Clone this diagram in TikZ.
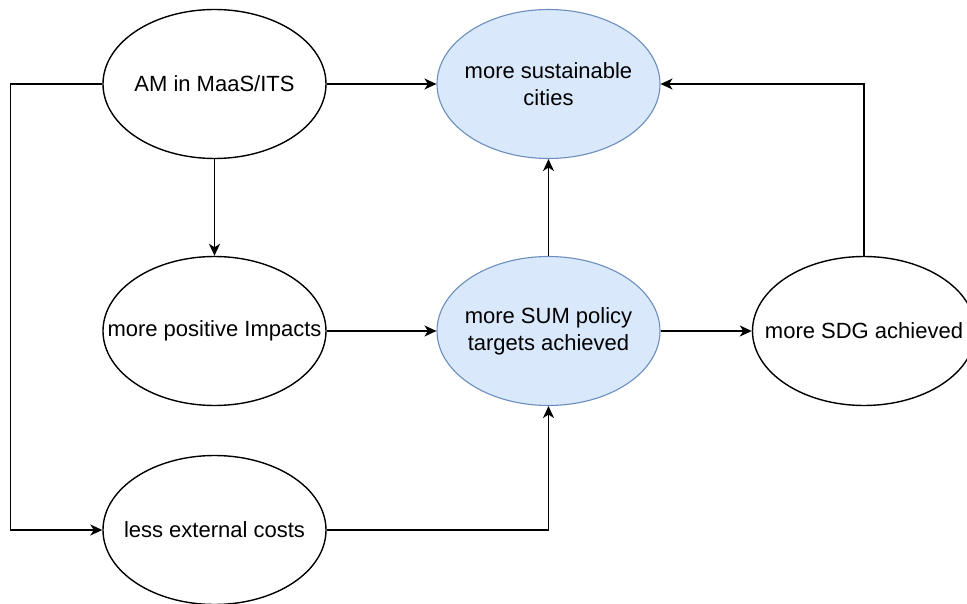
\documentclass[tikz,border=0pt]{standalone}
\usepackage{fontspec}
\setmainfont{Liberation Sans}
\usetikzlibrary{shapes.geometric,arrows.meta}
\definecolor{goalFill}{HTML}{DAE8FC}
\definecolor{goalLine}{HTML}{6C8EBF}
\tikzset{
  effectNode/.style={ellipse,draw=black,line width=1.4pt,minimum width=223pt,minimum height=149pt,inner xsep=-40pt,inner ysep=-20pt,align=center,font=\fontsize{22}{26.7}\selectfont},
  goalNode/.style={effectNode,fill=goalFill,draw=goalLine,line width=1.1pt},
  flow/.style={line width=1.5pt,-{Stealth[length=12pt,width=11pt,inset=3.5pt]}}
}
\begin{document}
\begin{tikzpicture}[x=1pt,y=-1pt]
        \useasboundingbox (0,0) rectangle (967,604);
        \pgfmathsetmacro{\colLeft}{214.5}
        \pgfmathsetmacro{\colMid}{548.5}
        \pgfmathsetmacro{\colRight}{864}
        \node[effectNode] (am) at (\colLeft,84) {AM in MaaS/ITS};
        \node[goalNode] (cities) at (\colMid,84) {more sustainable\\cities};
        \node[effectNode] (impacts) at (\colLeft,331) {more positive Impacts};
        \node[goalNode] (sum) at (\colMid,331) {more SUM policy\\targets achieved};
        \node[effectNode] (sdg) at (\colRight,331) {more SDG achieved};
        \node[effectNode] (less) at (\colLeft,530) {less external costs};
        \coordinate (bend) at (10.7,84);
        \draw[flow] (am) -- (cities);
        \draw[flow] (am) -- (impacts);
        \draw[flow] (impacts) -- (sum);
        \draw[flow] (sum) -- (cities);
        \draw[flow] (sum) -- (sdg);
        \draw[flow] (am.west) -- (bend) |- (less.west);
        \draw[flow] (less.east) -| (sum.south);
        \draw[flow] (sdg.north) |- (cities.east);
      \end{tikzpicture}
\end{document}
